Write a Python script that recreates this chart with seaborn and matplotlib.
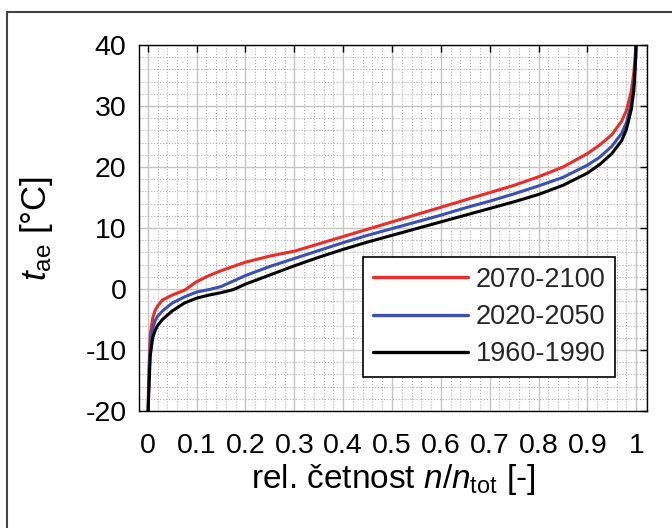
import numpy as np
import pandas as pd
import matplotlib
matplotlib.use("Agg")
import matplotlib.pyplot as plt
import seaborn as sns
from matplotlib.ticker import MultipleLocator
from matplotlib.lines import Line2D

# ---- data ----
rel = [0, 0.002, 0.005, 0.01, 0.015, 0.02, 0.03, 0.05, 0.075, 0.1, 0.125, 0.15,
       0.175, 0.2, 0.25, 0.3, 0.35, 0.4, 0.45, 0.5, 0.55, 0.6, 0.65, 0.7, 0.75,
       0.8, 0.85, 0.9, 0.925, 0.95, 0.97, 0.98, 0.99, 0.995, 0.999, 1.0]
t_2070 = [-22, -14, -7.5, -4.8, -3.5, -2.8, -1.8, -1.0, -0.2, 1.2, 2.2, 3.0,
          3.7, 4.4, 5.4, 6.2, 7.4, 8.6, 9.8, 11.0, 12.2, 13.4, 14.6, 15.8, 17.0,
          18.4, 20.0, 22.2, 23.6, 25.3, 27.5, 29.3, 32.5, 35.5, 39.5, 42]
t_2020 = [-22, -16, -9, -6.5, -5.2, -4.5, -3.6, -2.3, -1.3, -0.5, -0.1, 0.4,
          1.3, 2.2, 3.7, 5.0, 6.3, 7.6, 8.8, 9.9, 11.0, 12.1, 13.3, 14.4, 15.6,
          16.9, 18.3, 20.3, 21.6, 23.4, 25.5, 27.3, 30.5, 33.5, 38.5, 42]
t_1960 = [-22, -17, -11, -8.0, -6.8, -6.0, -5.0, -3.6, -2.3, -1.5, -1.0, -0.6,
          -0.1, 0.8, 2.3, 3.8, 5.2, 6.5, 7.7, 8.8, 9.9, 11.0, 12.1, 13.2, 14.3,
          15.5, 17.0, 19.0, 20.4, 22.2, 24.3, 26.2, 29.5, 32.5, 38.0, 42]
periods = ["2070-2100", "2020-2050", "1960-1990"]
colors = ["#EE2B25", "#3A50B2", "#000000"]
xticks = [0, 0.1, 0.2, 0.3, 0.4, 0.5, 0.6, 0.7, 0.8, 0.9, 1.0]
xtick_labels = ["0", "0.1", "0.2", "0.3", "0.4", "0.5", "0.6", "0.7", "0.8", "0.9", "1"]
yticks = [-20, -10, 0, 10, 20, 30, 40]

df = pd.concat([
    pd.DataFrame({"rel": rel, "t": vals, "period": p})
    for p, vals in zip(periods, [t_2070, t_2020, t_1960])
], ignore_index=True)

sns.set_theme(style="white")
plt.rcParams["font.family"] = ["Liberation Sans", "DejaVu Sans"]
plt.rcParams["mathtext.fontset"] = "custom"
plt.rcParams["mathtext.rm"] = "Liberation Sans"
plt.rcParams["mathtext.it"] = "Liberation Sans:italic"
plt.rcParams["axes.unicode_minus"] = False

fig = plt.figure(figsize=(6.72, 5.28), dpi=100)
ax = fig.add_axes([139 / 672, 1 - 411 / 528, 508 / 672, 366 / 528])

sns.lineplot(data=df, x="rel", y="t", hue="period", hue_order=periods,
             palette=colors, linewidth=2.2, errorbar=None, ax=ax)

ax.set_xlim(-0.018, 1.022)
ax.set_ylim(-20, 40)
ax.set_xticks(xticks)
ax.set_xticklabels(xtick_labels)
ax.set_yticks(yticks)
ax.xaxis.set_minor_locator(MultipleLocator(0.02))
ax.yaxis.set_minor_locator(MultipleLocator(2))
ax.set_axisbelow(True)
ax.grid(which="major", color="#c4c4c4", linestyle="-", linewidth=1.0)
ax.grid(which="minor", color="#b0b0b0", linestyle=":", linewidth=0.8)
ax.tick_params(which="major", direction="in", top=True, right=True, length=5,
               width=1, color="black", labelsize=20.5, labelcolor="black")
ax.tick_params(axis="x", which="major", pad=16)
ax.tick_params(axis="y", which="major", pad=9)
ax.tick_params(which="minor", length=0)
for s in ax.spines.values():
    s.set_color("black")
    s.set_linewidth(1.0)

ax.set_xlabel(r"rel. četnost $\it{n}$/$\it{n}_{\mathrm{tot}}$ [-]", fontsize=24, color="black")
ax.set_ylabel(r"$\it{t}_{\mathrm{ae}}$ [°C]", fontsize=25, color="black")
ax.xaxis.set_label_coords(0.5, -0.14)
ax.yaxis.set_label_coords(-0.165, 0.5)

leg = ax.legend(loc="lower right", bbox_to_anchor=(0.937, 0.093), frameon=True,
                fancybox=False, framealpha=1, edgecolor="black", fontsize=19.5,
                handlelength=3.5, handletextpad=0.3, labelspacing=0.42,
                borderpad=0.35, borderaxespad=0, title=None)
leg.get_frame().set_linewidth(1.2)
for h in leg.get_lines():
    h.set_linewidth(2.4)

fig.add_artist(Line2D([7 / 672, 7 / 672], [0, 1 - 12 / 528], transform=fig.transFigure,
                      color="#444444", linewidth=1.5))
fig.add_artist(Line2D([7 / 672, 1], [1 - 12 / 528, 1 - 12 / 528], transform=fig.transFigure,
                      color="#444444", linewidth=1.5))

fig.savefig("out.png", dpi=100, facecolor="white")
